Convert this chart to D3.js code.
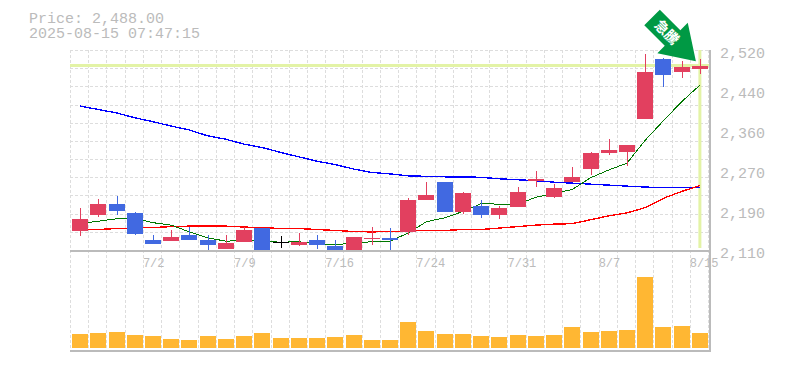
<!DOCTYPE html>
<html>
<head>
<meta charset="utf-8">
<script src="https://cdn.jsdelivr.net/npm/d3@7/dist/d3.min.js"></script>
<style>
html,body{margin:0;padding:0;background:#fff;}
svg{display:block;}
text{font-family:"Liberation Mono","DejaVu Sans Mono",monospace;fill:#bbb;}
</style>
</head>
<body>
<svg id="c" width="785" height="370"></svg>
<script>
const dates = ["6/26","6/27","6/30","7/1","7/2","7/3","7/4","7/7","7/8","7/9","7/10","7/11","7/14","7/15","7/16","7/17","7/18","7/22","7/23","7/24","7/25","7/28","7/29","7/30","7/31","8/1","8/4","8/5","8/6","8/7","8/8","8/12","8/13","8/14","8/15"];
const labeledDates = ["7/2","7/9","7/16","7/24","7/31","8/7","8/15"];
const opens  = [2149,2182,2204,2186,2130,2128,2141,2130,2112,2126,2155,2126,2120,2130,2118,2108,2132,2135,2147,2212,2249,2188,2200,2182,2198,2251,2219,2249,2276,2309,2311,2379,2501,2475,2482];
const highs  = [2196,2214,2221,2188,2141,2151,2157,2141,2141,2157,2155,2139,2145,2141,2130,2137,2157,2155,2217,2249,2249,2229,2212,2200,2239,2272,2245,2280,2311,2338,2325,2512,2504,2497,2501];
const lows   = [2139,2178,2182,2141,2122,2128,2130,2108,2112,2126,2108,2114,2118,2112,2108,2108,2120,2108,2141,2212,2188,2184,2176,2174,2198,2239,2217,2249,2264,2305,2282,2379,2444,2463,2471];
const closes = [2173,2204,2190,2143,2122,2137,2130,2120,2124,2151,2110,2126,2126,2120,2110,2137,2135,2130,2212,2223,2188,2227,2182,2196,2229,2256,2237,2260,2309,2315,2325,2475,2469,2485,2488];
const maShort = [2164,2169,2174,2175,2166,2161,2147,2135,2128,2130,2128,2126,2127,2122,2121,2124,2127,2128,2145,2168,2176,2189,2205,2204,2204,2218,2226,2234,2258,2274,2288,2335,2375,2414,2448];
const maMid   = [2152,2152,2154,2155,2156,2158,2159,2159,2159,2157,2156,2154,2154,2152,2150,2148,2147,2148,2149,2150,2150,2152,2152,2155,2158,2161,2163,2164,2172,2180,2186,2197,2216,2230,2242];
const maLong  = [2405,2398,2391,2381,2373,2364,2356,2344,2337,2327,2320,2310,2301,2292,2285,2276,2269,2266,2262,2261,2260,2260,2259,2256,2254,2252,2249,2247,2245,2243,2241,2239,2238,2238,2238];
const volumes = [14,15,16,13,12,9,8,12,9,12,15,10,10,10,11,13,8,8,26,17,14,14,12,11,13,12,13,21,16,17,18,71,21,22,15];
const priceTicks = [2520,2438,2356,2274,2192,2110];
const priceLabels = ["2,520","2,440","2,360","2,270","2,190","2,110"];
const titleLines = ["Price: 2,488.00","2025-08-15 07:47:15"];
const currentPrice = 2488;
const signalText = "急騰";

const svg = d3.select("#c");
const x = d3.scaleBand().domain(dates).range([71,709]);
const cx = d => x(d) + x.bandwidth()/2;
const y = d3.scaleLinear().domain([2110,2520]).range([250,50]);
const yVol = d3.scaleLinear().domain([0,100]).range([348,248]);
const bodyW = 16;
const gridColor = "#ddd", axisColor = "#bbb";
const up = "#e2405f", down = "#4169e1";

// grid
const g = svg.append("g").attr("fill","none").attr("stroke",gridColor).attr("stroke-dasharray","3,2").attr("shape-rendering","crispEdges");
const gridPrices = d3.range(12).map(k => 2110 + k*410/11);
g.selectAll(".h").data(gridPrices).join("line")
  .attr("x1",70).attr("x2",710).attr("y1",d=>Math.round(y(d))+.5).attr("y2",d=>Math.round(y(d))+.5);
g.selectAll(".v").data(dates.concat("end")).join("line")
  .attr("x1",(d,i)=> i==dates.length ? 708.5 : Math.round(x(d))-0.5)
  .attr("x2",(d,i)=> i==dates.length ? 708.5 : Math.round(x(d))-0.5)
  .attr("y1",50).attr("y2",350);

// price marker lines
svg.append("line").attr("x1",70).attr("x2",710).attr("y1",y(currentPrice)).attr("y2",y(currentPrice))
  .attr("stroke","#e3f3a6").attr("stroke-width",3);
svg.append("line").attr("x1",cx("8/15")).attr("x2",cx("8/15")).attr("y1",50).attr("y2",248)
  .attr("stroke","#e3f3a6").attr("stroke-width",3);

// moving averages
const line = d3.line().x((d,i)=>cx(dates[i])).y(d=>y(d));
[[maLong,"#0000ff",1.35],[maMid,"#ff0000",1.35],[maShort,"#007700",1]].forEach(([s,c,w])=>{
  svg.append("path").attr("d",line(s)).attr("fill","none").attr("stroke",c).attr("stroke-width",w).attr("shape-rendering","crispEdges");
});

// candles
const idx = d3.range(dates.length);
const col = i => closes[i]>opens[i] ? up : closes[i]<opens[i] ? down : "#000";
const cg = svg.append("g").attr("shape-rendering","crispEdges");
cg.selectAll(".w").data(idx).join("line")
  .attr("x1",i=>Math.round(cx(dates[i]))+.5).attr("x2",i=>Math.round(cx(dates[i]))+.5)
  .attr("y1",i=>y(highs[i])).attr("y2",i=>y(lows[i]))
  .attr("stroke",col).attr("stroke-width",1);
cg.selectAll(".b").data(idx).join("rect")
  .attr("x",i=>cx(dates[i])-bodyW/2).attr("width",bodyW)
  .attr("y",i=>y(Math.max(opens[i],closes[i])))
  .attr("height",i=>Math.max(1,Math.abs(y(opens[i])-y(closes[i]))))
  .attr("fill",col);

// volume
svg.append("g").selectAll("rect").data(idx).join("rect")
  .attr("x",i=>cx(dates[i])-bodyW/2).attr("width",bodyW)
  .attr("y",i=>yVol(volumes[i])).attr("height",i=>yVol(0)-yVol(volumes[i]))
  .attr("fill","#ffb733").attr("shape-rendering","crispEdges");

// frame
const frame = svg.append("g").attr("stroke",axisColor).attr("shape-rendering","crispEdges");
frame.append("line").attr("x1",70).attr("x2",711).attr("y1",250.5).attr("y2",250.5).attr("stroke-width",2);
frame.append("line").attr("x1",70).attr("x2",711).attr("y1",350.5).attr("y2",350.5).attr("stroke-width",2);
frame.append("line").attr("x1",710).attr("x2",710).attr("y1",50).attr("y2",351).attr("stroke-width",2);

// axes
const yAxis = d3.axisRight(y).tickValues(priceTicks).tickSize(0).tickPadding(0)
  .tickFormat((d,i)=>priceLabels[i]);
const ya = svg.append("g").attr("transform","translate(720,0)").call(yAxis);
ya.select(".domain").remove();
ya.selectAll("text").attr("x",0).attr("dy","0.36em").attr("transform","translate(0,2)").style("font-size","15px");
const xAxis = d3.axisBottom(x).tickValues(labeledDates).tickSize(0).tickPadding(0);
const xa = svg.append("g").attr("transform","translate(0,250)").call(xAxis);
xa.select(".domain").remove();
xa.selectAll(".tick").attr("transform",d=>`translate(${x(d)-1},0)`);
xa.selectAll("text").attr("x",0).attr("y",17).attr("dy",0).attr("text-anchor","start").style("font-size","12px");

// title
const title = svg.append("text").style("font-size","15px");
title.selectAll("tspan").data(titleLines).join("tspan")
  .attr("x",29).attr("y",(d,i)=>23+15*i).text(d=>d);

// signal arrow
const arrow = svg.append("g").attr("transform",`translate(${cx("8/15")-4},${y(highs[34])+2}) rotate(45)`);
arrow.append("polygon").attr("points","-62,-11 -33,-11 -33,-21.5 0,0 -33,21.5 -33,11 -62,11").attr("fill","#009944");
arrow.append("text").attr("x",-41).attr("y",5).attr("text-anchor","middle")
  .style("font-family",'"Noto Sans CJK JP"').style("font-weight","700").style("font-size","14px").style("fill","#fff").text(signalText);
</script>
</body>
</html>
